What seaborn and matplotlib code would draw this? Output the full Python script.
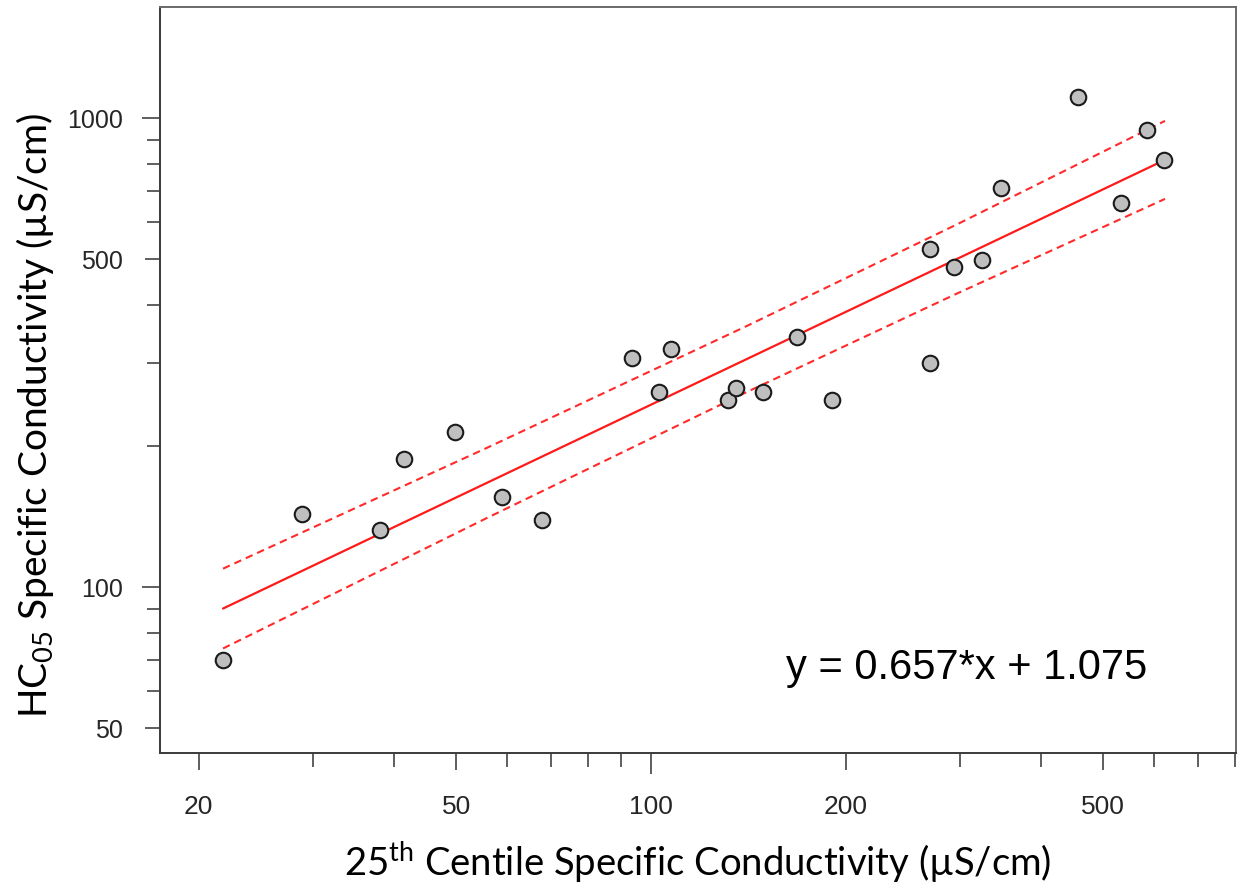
import numpy as np
import pandas as pd
import matplotlib
matplotlib.use("Agg")
import matplotlib.pyplot as plt
import seaborn as sns

# 25th centile SC (x) vs HC05 SC (y), uS/cm
sc25 = [21.8, 28.9, 38.1, 41.5, 49.8, 58.8, 67.9, 93.5, 102.9, 107.4, 131.5, 135.3,
        149.0, 168.1, 190.4, 270.0, 270.0, 294.0, 324.8, 347.5, 457.1, 532.7, 584.3, 620.7]
hc05 = [69.9, 143.1, 132.3, 187.5, 214.1, 155.6, 139.0, 307.7, 260.4, 321.7, 250.4, 265.7,
        260.4, 341.2, 250.4, 525.6, 300.3, 481.1, 498.0, 709.0, 1108.0, 658.8, 942.8, 813.7]

# log10(y) = slope*log10(x) + intercept
fit_slope = 0.657
fit_intercept = 1.075
fit_x = [21.8, 622.9]

# dashed bands
band_x = [21.8, 55.4, 140.7, 296.1, 622.9]
band_upper = [109.5, 197.3, 360.5, 592.1, 986.2]
band_lower = [74.0, 139.8, 260.7, 421.7, 672.5]

x_major = [20, 50, 100, 200, 500]
x_minor = [30, 40, 60, 70, 80, 90, 300, 400, 600, 700, 800]
y_major = [50, 100, 500, 1000]
y_minor = [60, 70, 80, 90, 200, 300, 400, 600, 700, 800, 900]

sns.set_theme(style="white")
plt.rcParams['font.family'] = ['Liberation Sans', 'DejaVu Sans']

fig = plt.figure(figsize=(12.38, 8.86), dpi=100)
ax = fig.add_axes([160/1238, 1 - 753/886, 1076/1238, 746/886])

pts = pd.DataFrame({'sc25': sc25, 'hc05': hc05})
fit = pd.DataFrame({'x': fit_x})
fit['y'] = 10 ** (fit_intercept + fit_slope * np.log10(fit['x']))
bands = pd.DataFrame({'x': band_x, 'upper': band_upper, 'lower': band_lower})

sns.lineplot(data=fit, x='x', y='y', ax=ax, color='#ff1a1a', lw=1.6,
             estimator=None, sort=False, zorder=2)
for col in ['upper', 'lower']:
    sns.lineplot(data=bands, x='x', y=col, ax=ax, color='#ff2a2a', lw=1.5,
                 estimator=None, sort=False, zorder=2)
ax.lines[1].set_dashes((3.6, 2.4))
ax.lines[2].set_dashes((3.6, 2.4))

sns.scatterplot(data=pts, x='sc25', y='hc05', ax=ax, s=125, color='#bfbfbf',
                edgecolor='#1a1a1a', linewidth=1.5, zorder=3)

ax.set_xscale('log')
ax.set_yscale('log')
ax.set_xlim(17.42, 802)
ax.set_ylim(44.3, 1725)

ax.set_xticks(x_major, labels=[str(v) for v in x_major])
ax.set_xticks(x_minor, minor=True)
ax.set_yticks(y_major, labels=[str(v) for v in y_major])
ax.set_yticks(y_minor, minor=True)
ax.xaxis.set_minor_formatter(matplotlib.ticker.NullFormatter())
ax.yaxis.set_minor_formatter(matplotlib.ticker.NullFormatter())

tick_col = '#333333'
ax.tick_params(axis='x', which='major', direction='out', length=12.2, width=1.1,
               color=tick_col, labelsize=19, labelcolor='#262626', pad=18, bottom=True)
ax.tick_params(axis='x', which='minor', direction='out', length=10, width=1.1,
               color=tick_col, bottom=True)
ax.tick_params(axis='y', which='major', direction='out', length=10.8, width=1.1,
               color=tick_col, labelsize=18, labelcolor='#262626', pad=16, left=True)
ax.tick_params(axis='y', which='minor', direction='out', length=9.4, width=1.1,
               color=tick_col, left=True)

# decade ticks drawn a little longer
for t, v in zip(ax.xaxis.get_major_ticks(), x_major):
    if v == 100:
        t.tick1line.set_markersize(15.1)
for t, v in zip(ax.yaxis.get_major_ticks(), y_major):
    if v in (100, 1000):
        t.tick1line.set_markersize(13)

for side in ['left', 'bottom', 'top', 'right']:
    ax.spines[side].set_visible(True)
    ax.spines[side].set_color('#3a3a3a')
    ax.spines[side].set_linewidth(1.4)
ax.spines['top'].set_color('#6a6a6a')
ax.spines['right'].set_color('#6a6a6a')

ax.set_xlabel('25$\\mathregular{^{th}}$ Centile Specific Conductivity (µS/cm)',
              fontsize=27.5, family='Lato', color='black')
ax.set_ylabel('HC$\\mathregular{_{05}}$ Specific Conductivity (µS/cm)',
              fontsize=28, family='Lato', color='black')
ax.xaxis.set_label_coords(0.5, -0.116)
ax.yaxis.set_label_coords(-0.097, 0.452)

ax.text(0.582, 0.0992, 'y = 0.657*x + 1.075', transform=ax.transAxes,
        fontsize=30, ha='left', va='baseline', color='black')

fig.savefig('out.png', dpi=100)
